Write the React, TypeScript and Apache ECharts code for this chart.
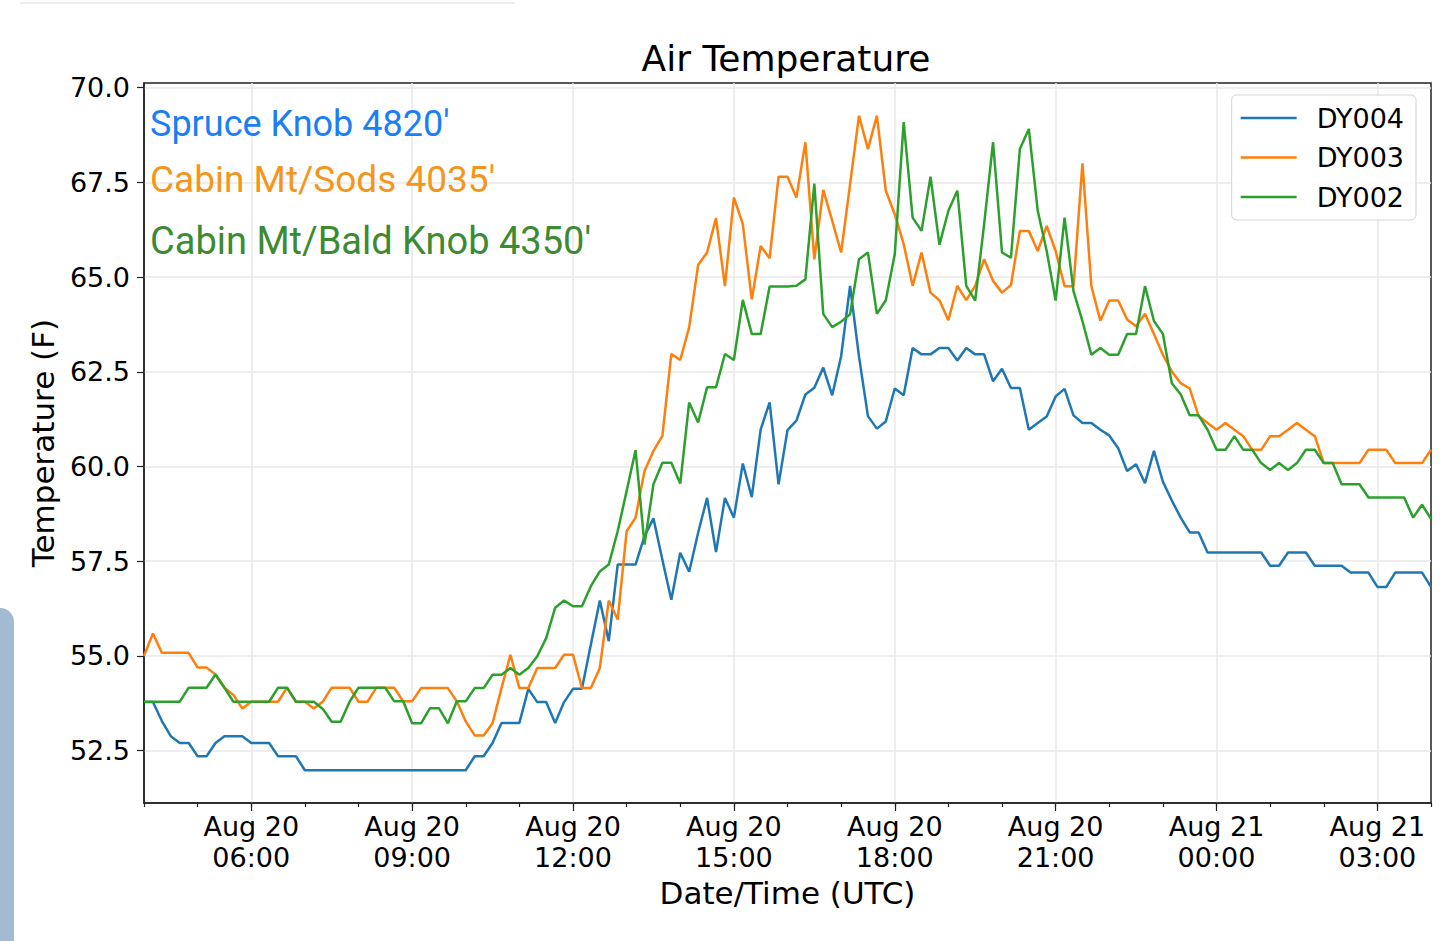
import React, { useEffect, useRef } from "react";
import * as echarts from "echarts";

// ---- data (10-minute samples from Aug 20 04:00 UTC to Aug 21 04:00 UTC) ----
const START_HOUR = 4; // Aug 20 04:00 UTC, hours counted from Aug 20 00:00
const STEP_MIN = 10;

const seriesNames = ["DY004", "DY003", "DY002"];
const seriesColors = ["#1f77b4", "#ff7f0e", "#2ca02c"];

const dy004 = [
  53.78, 53.78, 53.28, 52.88, 52.70, 52.70, 52.35, 52.35, 52.70, 52.88,
  52.88, 52.88, 52.70, 52.70, 52.70, 52.35, 52.35, 52.35, 51.98, 51.98,
  51.98, 51.98, 51.98, 51.98, 51.98, 51.98, 51.98, 51.98, 51.98, 51.98,
  51.98, 51.98, 51.98, 51.98, 51.98, 51.98, 51.98, 52.35, 52.35, 52.70,
  53.23, 53.23, 53.23, 54.13, 53.78, 53.78, 53.23, 53.78, 54.13, 54.13,
  55.30, 56.46, 55.39, 57.41, 57.41, 57.41, 58.16, 58.63, 57.54, 56.48,
  57.72, 57.22, 58.25, 59.17, 57.74, 59.17, 58.65, 60.08, 59.19, 60.98,
  61.69, 59.53, 60.96, 61.21, 61.90, 62.08, 62.61, 61.88, 62.91, 64.77,
  62.90, 61.33, 61.00, 61.19, 62.06, 61.88, 63.13, 62.96, 62.96, 63.13,
  63.13, 62.80, 63.13, 62.96, 62.96, 62.25, 62.58, 62.07, 62.07, 60.97,
  61.15, 61.32, 61.85, 62.05, 61.35, 61.15, 61.15, 60.97, 60.82, 60.48,
  59.88, 60.06, 59.56, 60.41, 59.60, 59.10, 58.65, 58.26, 58.26, 57.73,
  57.73, 57.73, 57.73, 57.73, 57.73, 57.73, 57.38, 57.38, 57.73, 57.73,
  57.73, 57.38, 57.38, 57.38, 57.38, 57.20, 57.20, 57.20, 56.82, 56.82,
  57.20, 57.20, 57.20, 57.20, 56.82,
];

const dy003 = [
  55.00, 55.59, 55.08, 55.08, 55.08, 55.08, 54.69, 54.69, 54.51, 54.16,
  53.97, 53.61, 53.79, 53.79, 53.79, 53.79, 54.16, 53.79, 53.79, 53.61,
  53.79, 54.16, 54.16, 54.16, 53.79, 53.79, 54.16, 54.16, 54.16, 53.80,
  53.80, 54.15, 54.15, 54.15, 54.15, 53.80, 53.27, 52.90, 52.90, 53.22,
  54.15, 55.03, 54.15, 54.15, 54.68, 54.68, 54.68, 55.03, 55.03, 54.15,
  54.15, 54.68, 56.46, 55.96, 58.29, 58.65, 59.88, 60.41, 60.81, 62.97,
  62.81, 63.68, 65.32, 65.65, 66.56, 64.76, 67.10, 66.40, 64.41, 65.82,
  65.50, 67.65, 67.65, 67.10, 68.56, 65.47, 67.30, 66.49, 65.65, 67.45,
  69.26, 68.38, 69.26, 67.28, 66.66, 65.87, 64.77, 65.65, 64.59, 64.39,
  63.86, 64.77, 64.39, 64.77, 65.47, 64.90, 64.59, 64.79, 66.22, 66.22,
  65.69, 66.35, 65.69, 64.76, 64.76, 68.00, 64.76, 63.85, 64.38, 64.38,
  63.88, 63.70, 64.03, 63.50, 62.95, 62.51, 62.20, 62.06, 61.33, 61.15,
  60.97, 61.15, 60.97, 60.80, 60.44, 60.44, 60.80, 60.80, 60.97, 61.15,
  60.97, 60.80, 60.09, 60.09, 60.09, 60.09, 60.09, 60.44, 60.44, 60.44,
  60.09, 60.09, 60.09, 60.09, 60.44,
];

const dy002 = [
  53.79, 53.79, 53.79, 53.79, 53.79, 54.16, 54.16, 54.16, 54.51, 54.16,
  53.79, 53.79, 53.79, 53.79, 53.79, 54.16, 54.16, 53.79, 53.79, 53.79,
  53.60, 53.26, 53.26, 53.79, 54.16, 54.16, 54.16, 54.16, 53.80, 53.80,
  53.22, 53.22, 53.62, 53.62, 53.22, 53.80, 53.80, 54.15, 54.15, 54.50,
  54.50, 54.68, 54.50, 54.68, 54.99, 55.47, 56.27, 56.46, 56.31, 56.31,
  56.84, 57.23, 57.41, 58.29, 59.35, 60.43, 57.94, 59.53, 60.10, 60.10,
  59.55, 61.69, 61.16, 62.09, 62.09, 62.97, 62.81, 64.40, 63.50, 63.50,
  64.75, 64.75, 64.75, 64.77, 64.94, 67.47, 64.03, 63.68, 63.82, 64.02,
  65.47, 65.65, 64.03, 64.39, 65.60, 69.09, 66.57, 66.22, 67.65, 65.85,
  66.75, 67.28, 64.77, 64.38, 66.40, 68.56, 65.65, 65.51, 68.38, 68.91,
  66.75, 65.69, 64.38, 66.57, 64.63, 63.84, 62.95, 63.13, 62.95, 62.95,
  63.50, 63.50, 64.76, 63.84, 63.50, 62.20, 61.90, 61.35, 61.35, 60.97,
  60.44, 60.44, 60.80, 60.44, 60.44, 60.09, 59.91, 60.09, 59.91, 60.09,
  60.44, 60.44, 60.09, 60.09, 59.53, 59.53, 59.53, 59.18, 59.18, 59.18,
  59.18, 59.18, 58.65, 58.99, 58.62,
];

const xTickHours = [6, 9, 12, 15, 18, 21, 24, 27];
const xTickLabels = [
  "Aug 20\n06:00", "Aug 20\n09:00", "Aug 20\n12:00", "Aug 20\n15:00",
  "Aug 20\n18:00", "Aug 20\n21:00", "Aug 21\n00:00", "Aug 21\n03:00",
];
const yTicks = [52.5, 55.0, 57.5, 60.0, 62.5, 65.0, 67.5, 70.0];

const annotations = [
  { text: "Spruce Knob 4820'", color: "#1a7ef5" },
  { text: "Cabin Mt/Sods 4035'", color: "#f5961c" },
  { text: "Cabin Mt/Bald Knob 4350'", color: "#3c8a32" },
];

const X_MIN = 4;
const X_MAX = 28;
const Y_MIN = 51.116;
const Y_MAX = 70.124;

const FONT = "DejaVu Sans";

export default function App() {
  const ref = useRef<HTMLDivElement>(null);

  useEffect(() => {
    if (!ref.current) return;
    const chart = echarts.init(ref.current, undefined, { renderer: "svg" });

    const allSeries = [dy004, dy003, dy002];
    const toPairs = (arr: number[]) =>
      arr.map((v, i) => [START_HOUR + (i * STEP_MIN) / 60, v]);

    const annotY = [124, 179, 241];
    const annotSize = [36, 37, 38];

    const option: any = {
      animation: false,
      backgroundColor: "#ffffff",
      textStyle: { fontFamily: FONT },
      grid: {
        left: 144,
        right: 9,
        top: 83,
        bottom: 138,
        show: true,
        borderColor: "#222",
        borderWidth: 1.5,
        backgroundColor: "transparent",
      },
      legend: {
        data: seriesNames,
        orient: "vertical",
        right: 24,
        top: 95,
        icon: "rect",
        itemWidth: 56,
        itemHeight: 2.5,
        itemGap: 9.5,
        padding: [8, 12, 8, 9],
        backgroundColor: "rgba(255,255,255,0.85)",
        borderColor: "#d4d4d4",
        borderWidth: 1,
        borderRadius: 5,
        textStyle: {
          fontFamily: FONT,
          fontSize: 27,
          lineHeight: 30,
          color: "#000",
          padding: [0, 0, 0, 15],
        },
      },
      xAxis: [
        {
          type: "value",
          min: X_MIN,
          max: X_MAX,
          name: "Date/Time (UTC)",
          nameLocation: "middle",
          nameGap: 72,
          nameTextStyle: { fontFamily: FONT, fontSize: 31, color: "#000" },
          axisLine: { show: true, lineStyle: { color: "#222", width: 1.5 } },
          axisTick: {
            show: true,
            customValues: xTickHours,
            length: 8,
            lineStyle: { color: "#222", width: 1.2 },
          },
          axisLabel: {
            customValues: xTickHours,
            formatter: (v: number) => {
              const k = xTickHours.indexOf(Math.round(v));
              return k >= 0 ? xTickLabels[k] : "";
            },
            fontFamily: FONT,
            fontSize: 27,
            lineHeight: 31,
            color: "#000",
            margin: 8,
          },
          splitLine: { show: true, lineStyle: { color: "#e8e8e8", width: 1.5 } },
        },
        {
          type: "value",
          min: X_MIN,
          max: X_MAX,
          interval: 1,
          position: "bottom",
          axisLine: { show: false },
          axisTick: { show: true, length: 4, lineStyle: { color: "#222", width: 1.2 } },
          axisLabel: { show: false },
          splitLine: { show: false },
        },
      ],
      yAxis: {
        type: "value",
        min: Y_MIN,
        max: Y_MAX,
        name: "Temperature (F)",
        nameLocation: "middle",
        nameGap: 86,
        nameTextStyle: { fontFamily: FONT, fontSize: 31, color: "#000" },
        axisLine: { show: true, lineStyle: { color: "#222", width: 1.5 } },
        axisTick: {
          show: true,
          customValues: yTicks,
          length: 7,
          lineStyle: { color: "#222", width: 1.2 },
        },
        axisLabel: {
          customValues: yTicks,
          formatter: (v: number) => v.toFixed(1),
          fontFamily: FONT,
          fontSize: 27,
          color: "#000",
          margin: 14,
        },
        splitLine: { show: true, lineStyle: { color: "#e8e8e8", width: 1.5 } },
      },
      series: allSeries.map((arr, k) => ({
        name: seriesNames[k],
        type: "line",
        xAxisIndex: 0,
        data: toPairs(arr),
        symbol: "none",
        showSymbol: false,
        color: seriesColors[k],
        lineStyle: { color: seriesColors[k], width: 2.5 },
        z: 3 + k,
      })),
      graphic: [
        {
          type: "rect",
          silent: true,
          shape: { x: -20, y: 608, width: 34, height: 345, r: 14 },
          style: { fill: "#a3bad3" },
        },
        {
          type: "line",
          silent: true,
          shape: { x1: 20, y1: 3, x2: 515, y2: 3 },
          style: { stroke: "#eeeeee", lineWidth: 2 },
        },
        {
          type: "text",
          x: 786,
          y: 58,
          style: {
            text: "Air Temperature",
            font: `36px "${FONT}"`,
            fill: "#000",
            align: "center",
            verticalAlign: "middle",
            textAlign: "center",
            textVerticalAlign: "middle",
          },
        },
        ...annotations.map((a, k) => ({
          type: "text",
          x: 150,
          y: annotY[k],
          z: 10,
          style: {
            text: a.text,
            font: `${annotSize[k]}px Roboto`,
            fill: a.color,
            align: "left",
            verticalAlign: "middle",
            textAlign: "left",
            textVerticalAlign: "middle",
          },
        })),
      ],
    };

    chart.setOption(option);
    return () => {
      chart.dispose();
    };
  }, []);

  return (
    <div
      ref={ref}
      style={{
        position: "fixed",
        left: 0,
        top: 0,
        width: 1440,
        height: 941,
        background: "#fff",
      }}
    />
  );
}
